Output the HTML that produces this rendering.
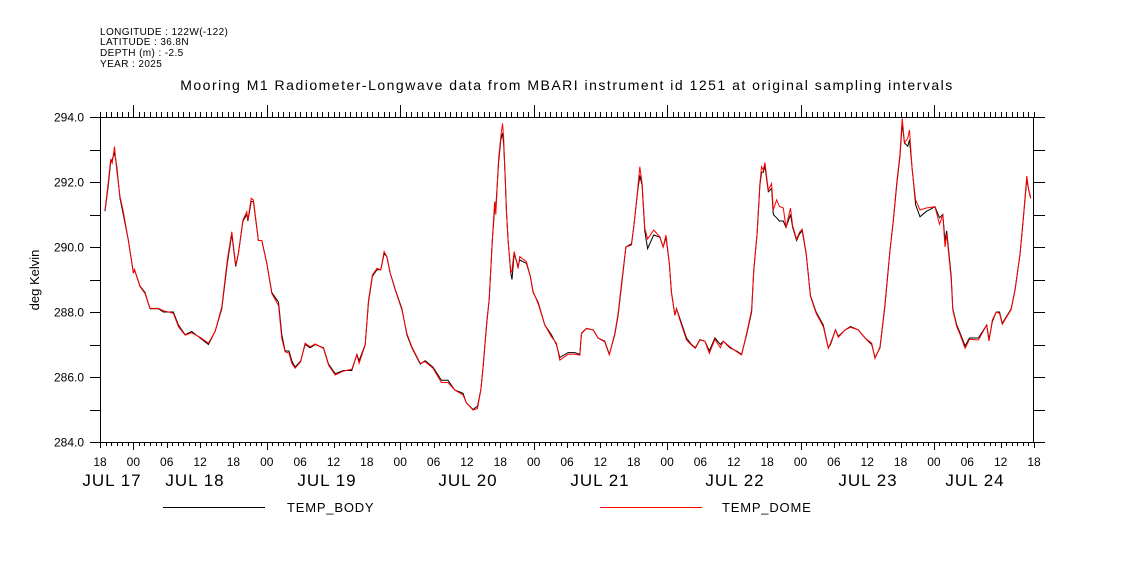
<!DOCTYPE html>
<html><head><meta charset="utf-8"><style>
body{margin:0;background:#fff;width:1121px;height:560px;overflow:hidden}
svg text{font-family:"Liberation Sans",sans-serif;fill:#000}
</style></head><body>
<svg id="chart" width="1121" height="560" xmlns="http://www.w3.org/2000/svg">
<g font-size="10" letter-spacing="0.4">
<text x="100" y="35">LONGITUDE : 122W(-122)</text>
<text x="100" y="45">LATITUDE : 36.8N</text>
<text x="100" y="56">DEPTH (m) : -2.5</text>
<text x="100" y="67">YEAR : 2025</text>
</g>
<text x="567" y="90" font-size="14" text-anchor="middle" letter-spacing="1.5">Mooring M1 Radiometer-Longwave data from MBARI instrument id 1251 at original sampling intervals</text>
<text font-size="13" text-anchor="middle" transform="translate(39,280) rotate(-90)">deg Kelvin</text>
<rect x="100.5" y="117.5" width="933" height="325" fill="none" stroke="#000" stroke-width="1"/>
<g id="ticks" stroke="#000" stroke-width="1"></g>
<g id="labels"></g>
<g id="series"></g>
<g>
<line x1="163" y1="507.5" x2="265" y2="507.5" stroke="#000"/>
<text x="287" y="512" font-size="13" letter-spacing="0.8">TEMP_BODY</text>
<line x1="600" y1="507.5" x2="702" y2="507.5" stroke="#f00"/>
<text x="722" y="512" font-size="13" letter-spacing="0.8">TEMP_DOME</text>
</g>
</svg>
<script>
const hourLabels=["18","00","06","12"];
const dayLabels=["JUL 17","JUL 18","JUL 19","JUL 20","JUL 21","JUL 22","JUL 23","JUL 24"];
const dayLabelPos=[112,195,327,468,600,735,868,975];
const yTicks=[284,285,286,287,288,289,290,291,292,293,294];
const times=[0.9,1.5,1.9,2.2,2.6,3.0,3.6,4.2,5.1,6.0,6.2,7.2,8.1,9.0,10.5,11.4,13.2,14.1,15.3,16.5,18,19.5,20.7,21.9,22.9,23.7,24.4,24.9,25.7,26.4,26.6,27.2,27.6,28.5,29.1,30,30.9,32.1,32.7,33.3,34.0,34.5,35.1,36.1,36.9,37.8,38.7,40.2,41.1,42.3,43.8,45.3,46.2,46.6,47.7,48.3,49.0,49.8,50.5,51.1,51.6,52.2,53.1,54.3,55.2,56.1,57.6,58.5,59.9,61.4,62.6,63.8,65.3,65.9,67.1,67.9,68.5,68.9,69.6,70.0,70.6,71.0,71.2,71.7,72.1,72.4,72.6,72.9,73.1,73.4,73.9,74.1,74.5,75.2,75.5,76.7,77.4,77.9,78.8,80.0,81.2,82.1,82.7,84.2,85.4,86.3,86.6,87.5,88.7,89.6,90.8,91.6,92.6,93.2,93.8,94.6,95.6,96.0,96.7,97.1,97.5,98.0,98.5,99.6,100.7,101.3,101.8,102.4,102.8,103.4,103.7,104.3,105.5,106.4,107.1,107.9,108.8,109.6,110.6,111.6,112.1,113.3,114.5,115.4,116.3,117.2,117.6,118.2,118.7,119.0,119.3,119.6,120.2,120.8,121.1,121.7,122.2,122.9,123.4,124.2,124.6,125.3,125.8,126.3,127.0,127.8,128.8,130.1,131.0,131.4,132.3,132.8,134.0,135.0,136.4,137.6,138.8,139.4,140.3,141.2,142.1,142.7,143.3,143.9,144.3,144.7,145.3,145.6,146.1,146.7,147.5,148.6,150.2,151.0,151.6,152.0,152.3,153.1,153.4,154.1,154.7,155.6,156.4,158.0,159.5,159.9,160.5,161.2,161.8,162.3,163.9,164.6,165.5,166.1,166.7,167.0,167.4];
const tempDome=[291.14,292.0,292.68,292.58,293.09,292.37,291.55,291.09,290.2,289.19,289.3,288.78,288.57,288.11,288.11,288.04,287.96,287.55,287.29,287.36,287.22,287.04,287.4,288.16,289.6,290.47,289.45,289.8,290.83,291.09,290.83,291.5,291.45,290.2,290.2,289.5,288.57,288.2,287.18,286.78,286.73,286.42,286.27,286.47,287.04,286.93,287.02,286.88,286.37,286.06,286.18,286.24,286.68,286.42,286.98,288.37,289.14,289.34,289.3,289.86,289.7,289.19,288.68,288.06,287.34,286.93,286.42,286.47,286.27,285.83,285.83,285.6,285.45,285.21,284.98,285.03,285.6,286.32,287.75,288.37,290.32,291.4,291.0,292.73,293.39,293.8,293.4,292.0,291.14,290.2,289.19,289.3,289.86,289.34,289.7,289.55,289.1,288.63,288.26,287.6,287.24,287.04,286.52,286.7,286.7,286.67,287.34,287.49,287.45,287.2,287.08,286.68,287.34,287.96,288.88,290.0,290.06,290.6,291.75,292.47,291.95,290.58,290.25,290.52,290.32,290.0,290.37,289.5,288.57,287.9,288.1,287.75,287.14,286.98,286.88,287.14,287.1,286.73,287.16,286.9,287.1,286.93,286.78,286.68,287.34,288.06,289.3,290.42,291.96,292.47,292.37,292.6,291.75,291.95,291.14,291.45,291.25,291.2,290.6,291.2,290.65,290.24,290.45,290.55,289.83,288.47,287.96,287.55,286.88,287.04,287.45,287.22,287.45,287.53,287.45,287.2,287.04,286.57,286.93,288.26,289.91,290.83,291.96,292.88,293.96,293.2,293.35,293.6,292.37,291.45,291.14,291.2,291.24,290.7,290.98,290.0,290.4,289.0,288.06,287.55,287.3,286.88,287.16,287.14,287.6,287.1,287.75,288.0,287.96,287.62,288.08,288.68,289.8,290.93,292.18,291.8,291.5];
const tempBody=[291.1,291.9,292.6,292.7,292.9,292.5,291.5,291.0,290.2,289.2,289.3,288.8,288.6,288.1,288.1,288.0,288.0,287.6,287.3,287.4,287.2,287.0,287.4,288.1,289.5,290.4,289.4,289.8,290.8,291.0,290.8,291.4,291.4,290.2,290.2,289.5,288.6,288.3,287.3,286.8,286.8,286.5,286.3,286.5,287.0,286.9,287.0,286.9,286.4,286.1,286.2,286.2,286.7,286.5,287.0,288.3,289.1,289.3,289.3,289.8,289.7,289.2,288.7,288.1,287.3,286.9,286.4,286.5,286.3,285.9,285.9,285.6,285.5,285.2,285.0,285.1,285.6,286.3,287.7,288.4,290.3,291.2,291.2,292.6,293.3,293.5,293.2,292.1,291.1,290.2,289.2,289.0,289.8,289.4,289.6,289.5,289.1,288.6,288.3,287.6,287.3,287.0,286.6,286.75,286.75,286.7,287.35,287.5,287.45,287.2,287.1,286.7,287.3,287.9,288.8,290.0,290.1,290.6,291.7,292.2,291.9,290.5,289.95,290.37,290.3,290.0,290.3,289.5,288.6,287.9,288.1,287.8,287.2,287.0,286.9,287.15,287.1,286.8,287.2,287.0,287.1,286.9,286.8,286.7,287.3,288.0,289.3,290.4,291.9,292.3,292.3,292.5,291.7,291.8,291.0,290.9,290.8,290.8,290.6,291.0,290.6,290.2,290.4,290.5,289.8,288.5,288.0,287.6,286.9,287.0,287.45,287.25,287.45,287.55,287.45,287.2,287.0,286.6,286.9,288.2,289.9,290.8,291.9,292.8,293.8,293.2,293.1,293.3,292.4,291.3,290.93,291.09,291.24,290.9,291.0,290.2,290.5,289.1,288.1,287.6,287.35,286.95,287.2,287.2,287.6,287.15,287.7,288.0,288.0,287.65,288.1,288.7,289.8,290.9,292.1,291.8,291.5];
const X0=100,X1=1034,Y0=117,Y1=442,TMAX=168,VMIN=284,VMAX=294;
function xs(t){return X0+t*(X1-X0)/TMAX;}
function ys(v){return Y0+(VMAX-v)*(Y1-Y0)/(VMAX-VMIN);}
const NS='http://www.w3.org/2000/svg';
const tk=document.getElementById('ticks'),lb=document.getElementById('labels'),sr=document.getElementById('series');
function ln(g,x1,y1,x2,y2){const l=document.createElementNS(NS,'line');l.setAttribute('x1',x1);l.setAttribute('y1',y1);l.setAttribute('x2',x2);l.setAttribute('y2',y2);g.appendChild(l);return l;}
function tx(g,x,y,s,size,anchor){const t=document.createElementNS(NS,'text');t.setAttribute('x',x);t.setAttribute('y',y);t.setAttribute('font-size',size);t.setAttribute('text-anchor',anchor);t.textContent=s;g.appendChild(t);return t;}
for(let h=0;h<=TMAX;h++){
  const x=Math.round(xs(h))+0.5;
  const isDay=(h%24)===6, is6=(h%6)===0;
  const a=ln(tk,x,Y0,x,Y0-(isDay?12:5));
  
  
  const b=ln(tk,x,Y1,x,Y1+(isDay?8:(is6?6:4)));
  
  
  if(is6){
    const t=tx(lb,xs(h),466,hourLabels[(h/6)%4],12,'middle');
    
    
  }
}
dayLabels.forEach((d,i)=>{
  const t=tx(lb,dayLabelPos[i],486,d,17,'middle');
  t.setAttribute('letter-spacing','1');
  
  
});
yTicks.forEach(v=>{
  const y=Math.round(ys(v))+0.5;
  const a=ln(tk,X0-10,y,X0,y);
  
  
  const b=ln(tk,X1,y,X1+11,y);
  
  
  if(v%2===0){
    const t=tx(lb,84,y+4,v.toFixed(1),12,'end');
    
    
  }
});
function path(vals,color,name){
  const p=document.createElementNS(NS,'path');
  p.setAttribute('d',vals.map((v,i)=>(i?'L':'M')+xs(times[i]).toFixed(1)+' '+ys(v).toFixed(1)).join(''));
  p.setAttribute('fill','none');p.setAttribute('stroke',color);p.setAttribute('stroke-width','1');
  
  
  sr.appendChild(p);
}
path(tempBody,'#000','temp-body-line');
path(tempDome,'#f00','temp-dome-line');
</script>
</body></html>
